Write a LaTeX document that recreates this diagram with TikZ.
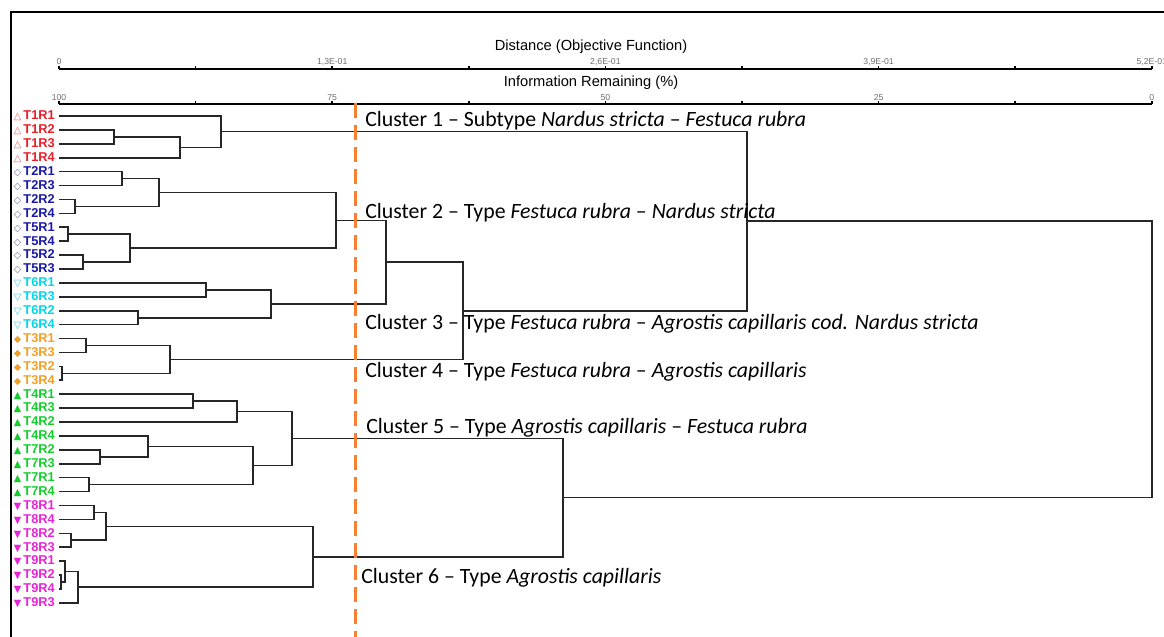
\documentclass[tikz,border=0pt]{standalone}
\usepackage{fontspec}
\usepackage{tikz}
\setmainfont{Carlito}
\setsansfont{Liberation Sans}
\newfontfamily\symfont{DejaVu Sans}
\usetikzlibrary{
    calc,
    positioning,
}

\definecolor{tred}{RGB}{230,30,40}
\definecolor{tredsym}{RGB}{225,95,100}
\definecolor{tblue}{RGB}{25,25,165}
\definecolor{tbluesym}{RGB}{110,110,150}
\definecolor{tcyan}{RGB}{0,215,235}
\definecolor{tcyansym}{RGB}{60,200,225}
\definecolor{torange}{RGB}{242,160,35}
\definecolor{tgreen}{RGB}{20,205,45}
\definecolor{tmagenta}{RGB}{230,35,215}
\definecolor{cutline}{RGB}{245,128,50}
\definecolor{ticktext}{RGB}{110,110,110}

% join two children at distance x, parent sits half way between them
\newcommand{\clade}[4]{%
    \path let \p1=(#2), \p2=(#3) in ({#4*0.75pt},{0.5*\y1+0.5*\y2}) coordinate (#1);
    \draw[branch] (#2) -| (#1) |- (#3);}

% markers
\newcommand{\sOpenUp}{{\symfont\fontsize{7.3}{7}\selectfont\color{tredsym}△}}
\newcommand{\sOpenDia}{{\symfont\fontsize{7.3}{7}\selectfont\color{tbluesym}◇}}
\newcommand{\sOpenDown}{{\symfont\fontsize{7.3}{7}\selectfont\color{tcyansym}▽}}
\newcommand{\sDia}{{\symfont\fontsize{7.3}{7}\selectfont ◆}}
\newcommand{\sUp}{{\symfont\fontsize{7.3}{7}\selectfont ▲}}
\newcommand{\sDown}{{\symfont\fontsize{7.3}{7}\selectfont ▼}}

\begin{document}
\begin{tikzpicture}[x=0.75pt,y=-0.75pt]

    \tikzstyle{branch}=[line width=1.2pt, black!85]
    \tikzstyle{axis}=[line width=1.1pt, black]
    \tikzstyle{leaf}=[font=\sffamily\bfseries\fontsize{9.6}{10}\selectfont, inner sep=0pt]
    \tikzstyle{leafRed}=[leaf, text=tred]
    \tikzstyle{leafBlue}=[leaf, text=tblue]
    \tikzstyle{leafCyan}=[leaf, text=tcyan]
    \tikzstyle{leafOrange}=[leaf, text=torange]
    \tikzstyle{leafGreen}=[leaf, text=tgreen]
    \tikzstyle{leafMagenta}=[leaf, text=tmagenta]
    \tikzstyle{cluster}=[font=\fontsize{16.35}{18}\selectfont, anchor=base west, inner sep=0pt]
    \tikzstyle{axistitle}=[font=\sffamily\fontsize{11}{12}\selectfont, anchor=base, inner sep=0pt]
    \tikzstyle{ticklabel}=[font=\sffamily\fontsize{6.5}{7}\selectfont, text=ticktext, anchor=base, inner sep=0pt]
    \tikzstyle{cut}=[cutline, line width=2.6pt, dash pattern=on 11pt off 5.5pt]

    \useasboundingbox (0,0) rectangle (1164,636);

    \begin{scope}
        % Spacing
        \def \hspacing {136.6}
        \def \vspacing {13.91}
        \def \xleft {59}
        \def \ytop {116}

        % Frame
        \draw[line width=1.4pt] (11,640) -- (11,12) -- (1170,12);

        % Axes
        \coordinate (dist0) at (\xleft,69);
        \coordinate (dist8) at (\xleft+8*\hspacing,69);
        \coordinate (info0) at (\xleft,104);
        \coordinate (info8) at (\xleft+8*\hspacing,104);
        \draw[axis] (dist0) -- (dist8);
        \draw[axis] (info0) -- (info8);
        \foreach \k in {0,...,8} {
            \draw[axis] (\xleft+\k*\hspacing,69) -- ++(0,-3);
            \draw[axis] (\xleft+\k*\hspacing,104) -- ++(0,-3);
        }
        \node[axistitle] (distTitle) at (591,50.5) {Distance (Objective Function)};
        \node[axistitle] (infoTitle) at (591,86) {Information Remaining (\%)};
        \node[ticklabel] (d0) at (\xleft+0*\hspacing,64.5) {0};
        \node[ticklabel] (d2) at (\xleft+2*\hspacing,64.5) {1,3E-01};
        \node[ticklabel] (d4) at (\xleft+4*\hspacing,64.5) {2,6E-01};
        \node[ticklabel] (d6) at (\xleft+6*\hspacing,64.5) {3,9E-01};
        \node[ticklabel] (d8) at (\xleft+8*\hspacing,64.5) {5,2E-01};
        \node[ticklabel] (i0) at (\xleft+0*\hspacing,100) {100};
        \node[ticklabel] (i2) at (\xleft+2*\hspacing,100) {75};
        \node[ticklabel] (i4) at (\xleft+4*\hspacing,100) {50};
        \node[ticklabel] (i6) at (\xleft+6*\hspacing,100) {25};
        \node[ticklabel] (i8) at (\xleft+8*\hspacing,100) {0};

        % Leaves
        \coordinate (T1R1) at (\xleft,\ytop+0*\vspacing);  \node[leafRed, left=3pt of T1R1] (lT1R1) {\sOpenUp\,T1R1};
        \coordinate (T1R2) at (\xleft,\ytop+1*\vspacing);  \node[leafRed, left=3pt of T1R2] (lT1R2) {\sOpenUp\,T1R2};
        \coordinate (T1R3) at (\xleft,\ytop+2*\vspacing);  \node[leafRed, left=3pt of T1R3] (lT1R3) {\sOpenUp\,T1R3};
        \coordinate (T1R4) at (\xleft,\ytop+3*\vspacing);  \node[leafRed, left=3pt of T1R4] (lT1R4) {\sOpenUp\,T1R4};
        \coordinate (T2R1) at (\xleft,\ytop+4*\vspacing);  \node[leafBlue, left=3pt of T2R1] (lT2R1) {\sOpenDia\,T2R1};
        \coordinate (T2R3) at (\xleft,\ytop+5*\vspacing);  \node[leafBlue, left=3pt of T2R3] (lT2R3) {\sOpenDia\,T2R3};
        \coordinate (T2R2) at (\xleft,\ytop+6*\vspacing);  \node[leafBlue, left=3pt of T2R2] (lT2R2) {\sOpenDia\,T2R2};
        \coordinate (T2R4) at (\xleft,\ytop+7*\vspacing);  \node[leafBlue, left=3pt of T2R4] (lT2R4) {\sOpenDia\,T2R4};
        \coordinate (T5R1) at (\xleft,\ytop+8*\vspacing);  \node[leafBlue, left=3pt of T5R1] (lT5R1) {\sOpenDia\,T5R1};
        \coordinate (T5R4) at (\xleft,\ytop+9*\vspacing);  \node[leafBlue, left=3pt of T5R4] (lT5R4) {\sOpenDia\,T5R4};
        \coordinate (T5R2) at (\xleft,\ytop+10*\vspacing); \node[leafBlue, left=3pt of T5R2] (lT5R2) {\sOpenDia\,T5R2};
        \coordinate (T5R3) at (\xleft,\ytop+11*\vspacing); \node[leafBlue, left=3pt of T5R3] (lT5R3) {\sOpenDia\,T5R3};
        \coordinate (T6R1) at (\xleft,\ytop+12*\vspacing); \node[leafCyan, left=3pt of T6R1] (lT6R1) {\sOpenDown\,T6R1};
        \coordinate (T6R3) at (\xleft,\ytop+13*\vspacing); \node[leafCyan, left=3pt of T6R3] (lT6R3) {\sOpenDown\,T6R3};
        \coordinate (T6R2) at (\xleft,\ytop+14*\vspacing); \node[leafCyan, left=3pt of T6R2] (lT6R2) {\sOpenDown\,T6R2};
        \coordinate (T6R4) at (\xleft,\ytop+15*\vspacing); \node[leafCyan, left=3pt of T6R4] (lT6R4) {\sOpenDown\,T6R4};
        \coordinate (T3R1) at (\xleft,\ytop+16*\vspacing); \node[leafOrange, left=3pt of T3R1] (lT3R1) {\sDia\,T3R1};
        \coordinate (T3R3) at (\xleft,\ytop+17*\vspacing); \node[leafOrange, left=3pt of T3R3] (lT3R3) {\sDia\,T3R3};
        \coordinate (T3R2) at (\xleft,\ytop+18*\vspacing); \node[leafOrange, left=3pt of T3R2] (lT3R2) {\sDia\,T3R2};
        \coordinate (T3R4) at (\xleft,\ytop+19*\vspacing); \node[leafOrange, left=3pt of T3R4] (lT3R4) {\sDia\,T3R4};
        \coordinate (T4R1) at (\xleft,\ytop+20*\vspacing); \node[leafGreen, left=3pt of T4R1] (lT4R1) {\sUp\,T4R1};
        \coordinate (T4R3) at (\xleft,\ytop+21*\vspacing); \node[leafGreen, left=3pt of T4R3] (lT4R3) {\sUp\,T4R3};
        \coordinate (T4R2) at (\xleft,\ytop+22*\vspacing); \node[leafGreen, left=3pt of T4R2] (lT4R2) {\sUp\,T4R2};
        \coordinate (T4R4) at (\xleft,\ytop+23*\vspacing); \node[leafGreen, left=3pt of T4R4] (lT4R4) {\sUp\,T4R4};
        \coordinate (T7R2) at (\xleft,\ytop+24*\vspacing); \node[leafGreen, left=3pt of T7R2] (lT7R2) {\sUp\,T7R2};
        \coordinate (T7R3) at (\xleft,\ytop+25*\vspacing); \node[leafGreen, left=3pt of T7R3] (lT7R3) {\sUp\,T7R3};
        \coordinate (T7R1) at (\xleft,\ytop+26*\vspacing); \node[leafGreen, left=3pt of T7R1] (lT7R1) {\sUp\,T7R1};
        \coordinate (T7R4) at (\xleft,\ytop+27*\vspacing); \node[leafGreen, left=3pt of T7R4] (lT7R4) {\sUp\,T7R4};
        \coordinate (T8R1) at (\xleft,\ytop+28*\vspacing); \node[leafMagenta, left=3pt of T8R1] (lT8R1) {\sDown\,T8R1};
        \coordinate (T8R4) at (\xleft,\ytop+29*\vspacing); \node[leafMagenta, left=3pt of T8R4] (lT8R4) {\sDown\,T8R4};
        \coordinate (T8R2) at (\xleft,\ytop+30*\vspacing); \node[leafMagenta, left=3pt of T8R2] (lT8R2) {\sDown\,T8R2};
        \coordinate (T8R3) at (\xleft,\ytop+31*\vspacing); \node[leafMagenta, left=3pt of T8R3] (lT8R3) {\sDown\,T8R3};
        \coordinate (T9R1) at (\xleft,\ytop+32*\vspacing); \node[leafMagenta, left=3pt of T9R1] (lT9R1) {\sDown\,T9R1};
        \coordinate (T9R2) at (\xleft,\ytop+33*\vspacing); \node[leafMagenta, left=3pt of T9R2] (lT9R2) {\sDown\,T9R2};
        \coordinate (T9R4) at (\xleft,\ytop+34*\vspacing); \node[leafMagenta, left=3pt of T9R4] (lT9R4) {\sDown\,T9R4};
        \coordinate (T9R3) at (\xleft,\ytop+35*\vspacing); \node[leafMagenta, left=3pt of T9R3] (lT9R3) {\sDown\,T9R3};

        % Cluster 1
        \clade{a12}{T1R2}{T1R3}{114}
        \clade{a124}{a12}{T1R4}{180}
        \clade{c1}{T1R1}{a124}{221}
        % Cluster 2
        \clade{b13}{T2R1}{T2R3}{122}
        \clade{b24}{T2R2}{T2R4}{75}
        \clade{b2}{b13}{b24}{159}
        \clade{e14}{T5R1}{T5R4}{68}
        \clade{e23}{T5R2}{T5R3}{83}
        \clade{e5}{e14}{e23}{130}
        \clade{c2}{b2}{e5}{336}
        % Cluster 3
        \clade{f13}{T6R1}{T6R3}{206}
        \clade{f24}{T6R2}{T6R4}{138}
        \clade{c3}{f13}{f24}{271}
        \clade{c23}{c2}{c3}{386}
        % Cluster 4
        \clade{g13}{T3R1}{T3R3}{86}
        \clade{g24}{T3R2}{T3R4}{62}
        \clade{c4}{g13}{g24}{170}
        \clade{c234}{c23}{c4}{463}
        \clade{c1234}{c1}{c234}{747}
        % Cluster 5
        \clade{h13}{T4R1}{T4R3}{193}
        \clade{h132}{h13}{T4R2}{237}
        \clade{k23}{T7R2}{T7R3}{100}
        \clade{k14}{T7R1}{T7R4}{89}
        \clade{hk4}{T4R4}{k23}{148}
        \clade{hk}{hk4}{k14}{253}
        \clade{c5}{h132}{hk}{292}
        % Cluster 6
        \clade{m14}{T8R1}{T8R4}{94}
        \clade{m23}{T8R2}{T8R3}{71}
        \clade{m8}{m14}{m23}{106}
        \clade{n24}{T9R2}{T9R4}{61}
        \clade{n124}{T9R1}{n24}{65}
        \clade{n9}{n124}{T9R3}{78}
        \clade{c6}{m8}{n9}{313}
        \clade{c56}{c5}{c6}{563}
        % Root
        \clade{root}{c1234}{c56}{1152}

        % Cluster labels
        \node[cluster] (cl1) at (365,126) {Cluster 1 -- Subtype \textit{Nardus stricta} -- \textit{Festuca rubra}};
        \node[cluster] (cl2) at (365,218) {Cluster 2 -- Type \textit{Festuca rubra} -- \textit{Nardus stricta}};
        \node[cluster] (cl3) at (365,329) {Cluster 3 -- Type \textit{Festuca rubra} -- \textit{Agrostis capillaris cod. Nardus stricta}};
        \node[cluster] (cl4) at (365,377) {Cluster 4 -- Type \textit{Festuca rubra} -- \textit{Agrostis capillaris}};
        \node[cluster] (cl5) at (366,433) {Cluster 5 -- Type \textit{Agrostis capillaris} -- \textit{Festuca rubra}};
        \node[cluster] (cl6) at (361,583) {Cluster 6 -- Type \textit{Agrostis capillaris}};

        % Cut level
        \coordinate (cutTop) at (355.5,103);
        \coordinate (cutBot) at (355.5,640);
        \draw[cut] (cutTop) -- (cutBot);
    \end{scope}

\end{tikzpicture}
\end{document}
